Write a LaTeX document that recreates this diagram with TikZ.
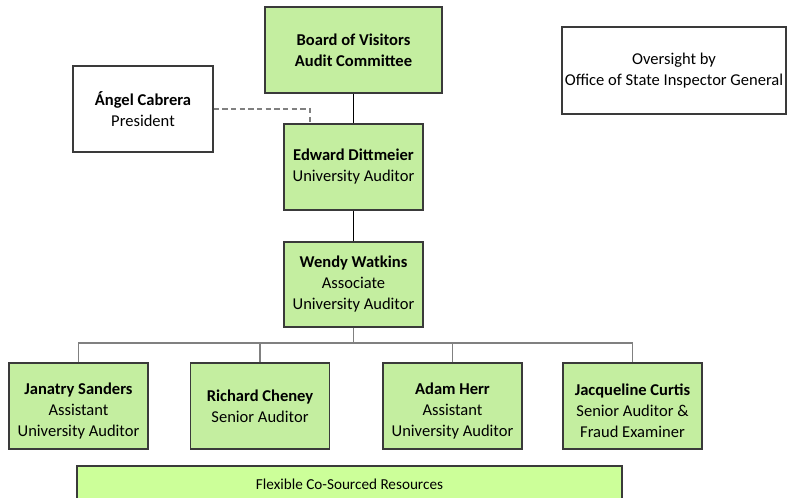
\documentclass[tikz,border=0pt]{standalone}
\usepackage{fontspec}
\setmainfont{Carlito}
\definecolor{boxgreen}{HTML}{C4EEA0}
\definecolor{bargreen}{HTML}{CCFF99}
\definecolor{boxline}{HTML}{3A3A3A}
\begin{document}
\begin{tikzpicture}[x=0.75pt,y=-0.75pt,
	unit/.style={draw=boxline,line width=1.1pt,fill=boxgreen,align=center,minimum width=104.25pt,minimum height=64.5pt,inner sep=2pt,font=\fontsize{12.4}{15.75}\selectfont},
	plainbox/.style={unit,fill=white},
	tree/.style={draw=gray,line width=1pt},
	dashlink/.style={draw=gray,line width=1pt,dash pattern=on 4pt off 2.5pt}]
		\useasboundingbox (0,0) rectangle (788,497);
		
		\node[unit,minimum width=132.75pt] (board) at (353.5,50) {\textbf{Board of Visitors}\\\textbf{Audit Committee}};
		\node[plainbox,minimum width=105pt] (cabrera) at (143,109) {\textbf{Ángel Cabrera}\\President};
		\node[plainbox,minimum width=168pt,minimum height=65.25pt] (oversight) at (674,70.5) {Oversight by\\Office of State Inspector General};
		\node[unit] (edward) at (353.5,167) {\textbf{Edward Dittmeier}\\University Auditor};
		\node[unit,minimum height=63.75pt] (wendy) at (353.5,284.5) {\textbf{Wendy Watkins}\\Associate\\University Auditor};
		
		\node[unit] (janatry) at (78.5,406) {\mbox{}\\\textbf{Janatry Sanders}\\Assistant\\University Auditor};
		\node[unit] (richard) at (260,406) {\textbf{Richard Cheney}\\Senior Auditor};
		\node[unit] (adam) at (452.5,406) {\mbox{}\\\textbf{Adam Herr}\\Assistant\\University Auditor};
		\node[unit] (jacqueline) at (632.5,406) {\mbox{}\\\textbf{Jacqueline Curtis}\\Senior Auditor \&\\Fraud Examiner};
		
		\node[unit,fill=bargreen,minimum width=408.75pt,minimum height=27pt,font=\fontsize{11.4}{14}\selectfont] (flexible) at (349.5,484) {Flexible Co-Sourced Resources};
		
		\coordinate (bus) at (353.5,343);
		
		\draw[line width=1pt] (board) -- (edward);
		\draw[line width=1pt] (edward) -- (wendy);
		\draw[dashlink] (cabrera.east) -| ([xshift=20pt]edward.north west);
		
		\draw[tree] (wendy) -- (bus);
		\draw[tree] (janatry.north) |- (bus) -| (jacqueline.north);
		\draw[tree] (richard.north) -- (richard.north |- bus);
		\draw[tree] (adam.north) -- (adam.north |- bus);
	\end{tikzpicture}
\end{document}
